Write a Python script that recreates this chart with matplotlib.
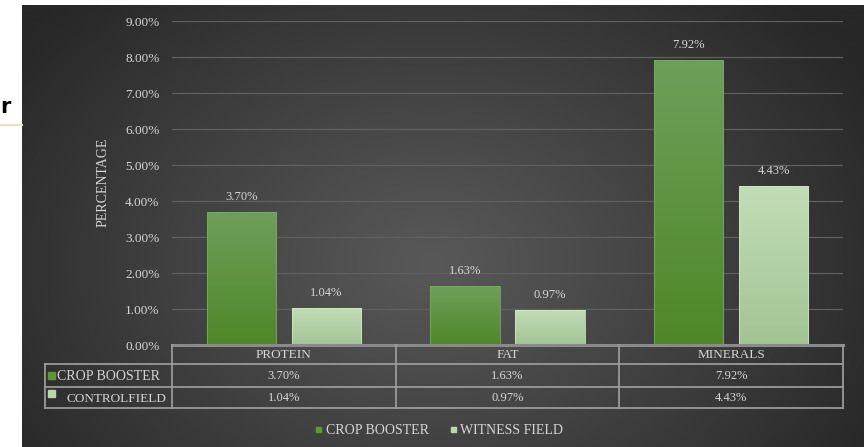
import numpy as np
import matplotlib
matplotlib.use("Agg")
import matplotlib.pyplot as plt
from matplotlib.colors import LinearSegmentedColormap
from matplotlib.patches import Rectangle

# ---- data -------------------------------------------------------------
categories = ["PROTEIN", "FAT", "MINERALS"]
crop_booster = [3.70, 1.63, 7.92]
control_field = [1.04, 0.97, 4.43]
series_names = ["CROP BOOSTER", "WITNESS FIELD"]
table_row_labels = ["CROP BOOSTER", "CONTROLFIELD"]
y_ticks = [0, 1, 2, 3, 4, 5, 6, 7, 8, 9]

W, H = 864, 447
SERIF = ["Liberation Serif", "DejaVu Serif"]
TXT = "#d6d6d6"
GRID = "#606060"
LINE = "#9a9a9a"

fig = plt.figure(figsize=(W / 100, H / 100), dpi=100)
fig.patch.set_facecolor("white")

# ---- background panel with a soft radial glow --------------------------
bg = fig.add_axes([0, 0, 1, 1], zorder=-5)
bg.set_xlim(0, W)
bg.set_ylim(H, 0)
bg.axis("off")
yy, xx = np.mgrid[0:H, 0:W]
d = np.sqrt(((xx - 420) / 520.0) ** 2 + ((yy - 260) / 380.0) ** 2)
d = np.clip(d, 0, 1)
v = (0x58 - (0x58 - 0x27) * d ** 1.1) / 255.0
img = np.dstack([v, v, v])
bg.imshow(img, extent=[22, W, H, 5], aspect="auto", interpolation="bilinear")
bg.plot([0, 22], [125, 125], color="#e8e2c0", lw=1.5)
bg.text(0.5, 107, "r", fontsize=15, fontweight="bold", color="black",
        ha="left", va="center", family="DejaVu Sans")

# ---- main bar axes -------------------------------------------------------
L, R, T, B = 172, 843, 21, 345
ax = fig.add_axes([L / W, 1 - B / H, (R - L) / W, (B - T) / H])
ax.set_facecolor("none")
x = np.arange(len(categories))
off, bw = 0.19, 0.31

green_cmap = LinearSegmentedColormap.from_list("g", ["#4f8727", "#6e9f5a"])
light_cmap = LinearSegmentedColormap.from_list("l", ["#a2c493", "#c2ddb6"])

bars1 = ax.bar(x - off, crop_booster, bw, facecolor="none",
               edgecolor="#7aa86a", lw=0.6, zorder=3)
bars2 = ax.bar(x + off, control_field, bw, facecolor="none",
               edgecolor="#cfe5c4", lw=0.6, zorder=3)

grad = np.linspace(0, 1, 256).reshape(-1, 1)
for bars, cmap in ((bars1, green_cmap), (bars2, light_cmap)):
    for rect in bars:
        x0, y0 = rect.get_x(), rect.get_y()
        w, h = rect.get_width(), rect.get_height()
        im = ax.imshow(grad, extent=[x0, x0 + w, y0, y0 + h], origin="lower",
                       cmap=cmap, aspect="auto", zorder=2)
        im.set_clip_path(rect)

ax.set_xlim(-0.5, 2.5)
ax.set_ylim(0, 9)
ax.set_yticks(y_ticks)
ax.set_yticklabels([f"{t:.2f}%" for t in y_ticks], fontsize=9.5,
                   color=TXT, family=SERIF)
ax.tick_params(axis="y", length=0, pad=9)
ax.tick_params(axis="x", length=0, labelbottom=False)
ax.set_xticks([])
ax.grid(axis="y", color=GRID, lw=0.9)
ax.set_axisbelow(True)
for s in ax.spines.values():
    s.set_visible(False)
ax.set_ylabel("PERCENTAGE", fontsize=10, color=TXT, family=SERIF, labelpad=10)
ax.yaxis.set_label_coords((110 - L) / (R - L), (B - 182) / (B - T))

for bars, vals in ((bars1, crop_booster), (bars2, control_field)):
    for rect, val in zip(bars, vals):
        ax.text(rect.get_x() + rect.get_width() / 2, val + 0.25, f"{val:.2f}%",
                ha="center", va="bottom", fontsize=9, color=TXT, family=SERIF)

# ---- data table under the axis --------------------------------------------
ov = fig.add_axes([0, 0, 1, 1], zorder=5)
ov.set_xlim(0, W)
ov.set_ylim(H, 0)
ov.axis("off")
col_w = (R - L) / len(categories)
rows_y = [345, 364, 387, 408]
ov.plot([L, R], [345, 345], color="#8a8a8a", lw=2.2)
for yv in rows_y[1:]:
    ov.plot([45, R], [yv, yv], color=LINE, lw=1.3)
for i in range(len(categories) + 1):
    ov.plot([L + i * col_w] * 2, [345, 408], color=LINE, lw=1.3)
ov.plot([45, 45], [364, 408], color=LINE, lw=1.3)

for i, cat in enumerate(categories):
    cx = L + (i + 0.5) * col_w
    ov.text(cx, 355, cat, ha="center", va="center", fontsize=9.5,
            color=TXT, family=SERIF)
    ov.text(cx, 376, f"{crop_booster[i]:.2f}%", ha="center", va="center",
            fontsize=9, color=TXT, family=SERIF)
    ov.text(cx, 398, f"{control_field[i]:.2f}%", ha="center", va="center",
            fontsize=9, color=TXT, family=SERIF)

ov.add_patch(Rectangle((48, 372), 7, 7, color="#5a9a34"))
ov.text(57, 376, table_row_labels[0], ha="left", va="center", fontsize=10,
        color=TXT, family=SERIF)
ov.add_patch(Rectangle((48, 390), 7, 7, color="#b8d8a8"))
ov.text(166, 399, table_row_labels[1], ha="right", va="center", fontsize=9.5,
        color=TXT, family=SERIF)

# ---- legend -------------------------------------------------------------
ov.add_patch(Rectangle((316, 427), 5, 5, color="#5a9a34"))
ov.text(326, 430, series_names[0], ha="left", va="center", fontsize=10,
        color=TXT, family=SERIF)
ov.add_patch(Rectangle((451, 427), 5, 5, color="#b8d8a8"))
ov.text(460, 430, series_names[1], ha="left", va="center", fontsize=10,
        color=TXT, family=SERIF)

fig.savefig("out.png", dpi=100, facecolor=fig.get_facecolor())
